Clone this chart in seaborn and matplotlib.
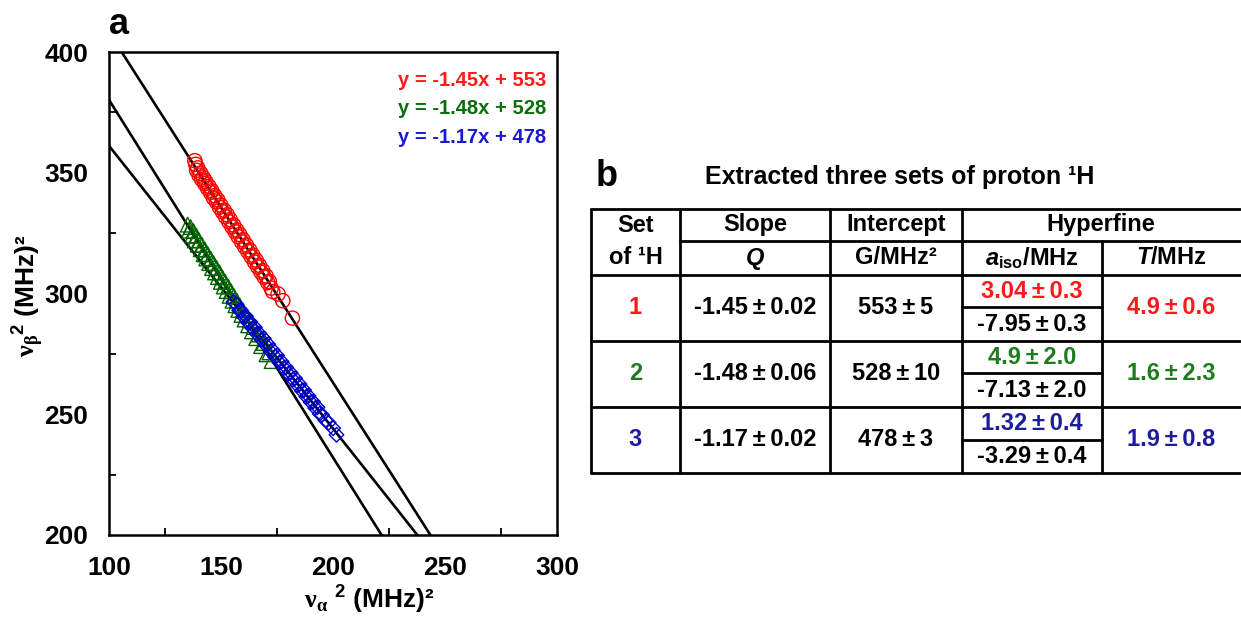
import numpy as np
import pandas as pd
import matplotlib
matplotlib.use("Agg")
import matplotlib.pyplot as plt
import seaborn as sns

# ---------------- data ----------------
red_x = [138.2, 138.6, 139.0, 139.5, 140.1, 140.8, 141.3, 142.0, 142.6, 143.1, 143.9, 144.5,
         145.2, 145.8, 146.5, 147.1, 147.9, 148.4, 149.2, 149.8, 150.5, 151.3, 151.9, 152.7,
         153.4, 154.0, 154.8, 155.5, 156.2, 156.9, 157.6, 158.3, 159.1, 159.7, 160.5, 161.2,
         161.9, 162.7, 163.4, 164.1, 164.9, 165.6, 166.3, 167.0, 167.8, 168.5, 169.2, 170.0,
         170.8, 171.5, 172.3, 173.0, 175.4, 177.5, 181.8]
red_y = [355.0, 353.5, 351.0, 352.0, 349.0, 349.8, 347.2, 348.0, 345.5, 346.3, 343.6, 344.4,
         341.8, 342.5, 339.6, 340.5, 337.9, 338.8, 335.7, 336.6, 333.9, 334.5, 331.8, 332.6,
         329.7, 330.6, 327.6, 328.4, 325.6, 326.3, 323.5, 324.4, 321.4, 322.3, 319.3, 320.1,
         317.4, 318.0, 315.2, 315.9, 313.0, 313.8, 311.0, 311.7, 308.8, 309.5, 306.8, 307.3,
         304.5, 305.0, 302.2, 300.8, 299.8, 297.0, 289.8]

green_x = [135.0, 135.6, 136.3, 137.0, 137.6, 138.2, 138.9, 139.5, 140.1, 140.8, 141.4, 142.1,
           142.7, 143.3, 144.0, 144.6, 145.3, 145.9, 146.6, 147.2, 147.9, 148.5, 149.2, 149.8,
           150.5, 151.1, 151.8, 152.4, 153.1, 153.7, 154.4, 155.0, 155.7, 156.3, 157.0, 157.6,
           158.3, 159.0, 159.7, 160.4, 161.2, 162.0, 162.8, 163.7, 164.6, 165.6, 166.7, 167.8,
           169.0, 170.2, 171.5, 172.5]
green_y = [328.5, 326.0, 327.5, 324.0, 325.8, 322.0, 323.9, 320.2, 322.0, 318.3, 320.1, 316.2,
           318.2, 314.5, 316.3, 312.6, 314.4, 310.5, 312.5, 308.7, 310.6, 306.8, 308.7, 304.8,
           306.6, 302.9, 304.8, 301.0, 302.9, 299.0, 300.9, 297.0, 298.9, 295.1, 297.0, 293.2,
           295.0, 291.1, 293.0, 289.2, 291.0, 286.8, 288.9, 284.3, 286.1, 281.5, 283.0, 278.2,
           279.5, 274.8, 275.6, 272.0]

blue_x = [155.5, 156.8, 158.0, 159.0, 160.1, 161.0, 162.0, 163.0, 164.0, 165.0, 166.0, 167.0,
          168.0, 169.0, 170.0, 171.0, 172.0, 173.0, 174.0, 175.0, 176.0, 177.0, 178.0, 179.0,
          180.0, 181.0, 182.0, 183.0, 184.0, 185.0, 186.0, 187.0, 188.0, 189.0, 190.0, 191.0,
          192.0, 193.0, 194.0, 195.0, 196.5, 198.0, 200.0, 201.5]
blue_y = [296.5, 295.5, 293.0, 292.8, 290.3, 290.6, 288.0, 288.2, 285.6, 286.0, 283.2, 283.5,
          280.8, 281.4, 278.5, 279.0, 276.0, 276.6, 273.8, 274.3, 271.4, 271.8, 269.2, 269.4,
          266.8, 267.2, 264.4, 264.9, 262.0, 262.5, 259.7, 260.0, 257.3, 257.6, 255.0, 255.2,
          252.6, 252.9, 250.2, 249.8, 247.5, 246.5, 244.2, 241.5]

fit_slopes = [-1.45, -1.48, -1.17]
fit_intercepts = [553, 528, 478]
fit_labels = ["y = -1.45x + 553", "y = -1.48x + 528", "y = -1.17x + 478"]
fit_colors = ["#FF1A1A", "#0A6E0A", "#1A1AD0"]

x_ticks = [100, 150, 200, 250, 300]
y_ticks = [200, 250, 300, 350, 400]

# table data
PM = "\u2009±\u2009"
table_title = "Extracted three sets of proton ¹H"
set_ids = ["1", "2", "3"]
slopes_tab = ["-1.45" + PM + "0.02", "-1.48" + PM + "0.06", "-1.17" + PM + "0.02"]
intercepts_tab = ["553" + PM + "5", "528" + PM + "10", "478" + PM + "3"]
aiso_pos = ["3.04" + PM + "0.3", "4.9" + PM + "2.0", "1.32" + PM + "0.4"]
aiso_neg = ["-7.95" + PM + "0.3", "-7.13" + PM + "2.0", "-3.29" + PM + "0.4"]
T_vals = ["4.9" + PM + "0.6", "1.6" + PM + "2.3", "1.9" + PM + "0.8"]
row_colors = ["#FF1A1A", "#1E7B1E", "#1C1C9E"]

# ---------------- style ----------------
sns.set_theme(style="white")
plt.rcParams['font.family'] = ['Liberation Sans', 'DejaVu Sans']
plt.rcParams['font.weight'] = 'bold'
plt.rcParams['text.color'] = 'black'
plt.rcParams['axes.labelcolor'] = 'black'
plt.rcParams['xtick.color'] = 'black'
plt.rcParams['ytick.color'] = 'black'
plt.rcParams['mathtext.fontset'] = 'custom'
plt.rcParams['mathtext.rm'] = 'Liberation Serif'
plt.rcParams['mathtext.it'] = 'Liberation Sans:italic:bold'
plt.rcParams['mathtext.bf'] = 'Liberation Sans:bold'

W, H = 1241, 619
fig = plt.figure(figsize=(W / 100, H / 100), dpi=100)
fig.patch.set_facecolor("white")

L, R, T, B = 109.3, 557.0, 52.0, 535.0
ax = fig.add_axes([L / W, (H - B) / H, (R - L) / W, (B - T) / H])

# fit lines
xx = np.array([100.0, 300.0])
for m, b in zip(fit_slopes, fit_intercepts):
    sns.lineplot(x=xx, y=m * xx + b, ax=ax, color="black", linewidth=1.9, zorder=2)

# scatter series
series = [
    (red_x, red_y, "o", "#FF0000", 105),
    (green_x, green_y, "^", "#006400", 110),
    (blue_x, blue_y, "D", "#0000CC", 55),
]
for xs, ys, mk, col, s in series:
    n_before = len(ax.collections)
    sns.scatterplot(x=xs, y=ys, ax=ax, marker=mk, s=s, color=col, linewidth=1.0, zorder=3)
    for c in ax.collections[n_before:]:
        c.set_facecolor("none")
        c.set_edgecolor(col)

ax.set_xlim(100, 300)
ax.set_ylim(200, 400)
ax.set_xticks(x_ticks)
ax.set_yticks(y_ticks)
ax.set_xticks([125, 175, 225, 275], minor=True)
ax.set_yticks([225, 275, 325, 375], minor=True)
ax.tick_params(axis="both", which="major", length=0, labelsize=19)
ax.tick_params(axis="x", which="major", pad=15)
ax.tick_params(axis="y", which="major", pad=15)
ax.tick_params(axis="both", which="minor", direction="in", length=5, width=1.3, color="black")
ax.tick_params(axis="x", which="minor", bottom=True)
ax.tick_params(axis="y", which="minor", left=True)
for lab in ax.get_xticklabels() + ax.get_yticklabels():
    lab.set_fontweight("bold")
for sp in ax.spines.values():
    sp.set_linewidth(1.8)
    sp.set_color("black")

ax.set_xlabel(r"$\mathrm{\nu_{\alpha}}$ $^{\mathbf{2}}$ (MHz)²", fontsize=19, fontweight="bold")
ax.set_ylabel(r"$\mathrm{\nu_{\beta}}^{\mathbf{2}}$ (MHz)²", fontsize=19, fontweight="bold")
ax.xaxis.set_label_coords((369 - L) / (R - L), -(584 - B) / (B - T))
ax.yaxis.set_label_coords(-(L - 46) / (R - L), (B - 296) / (B - T))

for i, (lab, col) in enumerate(zip(fit_labels, fit_colors)):
    ax.text(0.975, 0.94 - i * 0.058, lab, transform=ax.transAxes, ha="right", va="center",
            color=col, fontsize=14.5, fontweight="bold")

# ---------------- overlay for panel letters and table ----------------
ov = fig.add_axes([0, 0, 1, 1], facecolor="none")
ov.set_xlim(0, W)
ov.set_ylim(H, 0)
ov.axis("off")

ov.text(119, 24, "a", fontsize=26, fontweight="bold", ha="center", va="center")
ov.text(607, 176, "b", fontsize=26, fontweight="bold", ha="center", va="center")
ov.text(900, 177, table_title, fontsize=18, fontweight="bold", ha="center", va="center")

cols = [591, 680, 830, 962, 1102, 1240]
rows = [209, 241, 275, 341, 407, 473]
half = [307, 373, 440]
lw = 2.0
ov.plot([cols[0], cols[-1]], [rows[0], rows[0]], color="black", lw=lw)
ov.plot([cols[1], cols[-1]], [rows[1], rows[1]], color="black", lw=lw)
for r in rows[2:]:
    ov.plot([cols[0], cols[-1]], [r, r], color="black", lw=lw)
for h in half:
    ov.plot([cols[3], cols[4]], [h, h], color="black", lw=lw)
for c in cols[:4]:
    ov.plot([c, c], [rows[0], rows[-1]], color="black", lw=lw)
ov.plot([cols[4], cols[4]], [rows[1], rows[-1]], color="black", lw=lw)

fs = 17
cx = [(cols[i] + cols[i + 1]) / 2 for i in range(5)]
ov.text(cx[0], 225, "Set", fontsize=fs, fontweight="bold", ha="center", va="center")
ov.text(cx[0], 258, "of ¹H", fontsize=fs, fontweight="bold", ha="center", va="center")
ov.text(cx[1], 225, "Slope", fontsize=fs, fontweight="bold", ha="center", va="center")
ov.text(cx[1], 258, "Q", fontsize=fs, fontweight="bold", style="italic", ha="center", va="center")
ov.text(cx[2], 225, "Intercept", fontsize=fs, fontweight="bold", ha="center", va="center")
ov.text(cx[2], 258, "G/MHz²", fontsize=fs, fontweight="bold", ha="center", va="center")
ov.text((cols[3] + cols[5]) / 2, 225, "Hyperfine", fontsize=fs, fontweight="bold", ha="center", va="center")
ov.text(cx[3], 258, r"$\mathit{a}_{\mathbf{iso}}$/MHz", fontsize=fs, fontweight="bold", ha="center", va="center")
ov.text(cx[4], 258, r"$\mathit{T}$/MHz", fontsize=fs, fontweight="bold", ha="center", va="center")

row_mid = [(rows[2] + rows[3]) / 2, (rows[3] + rows[4]) / 2, (rows[4] + rows[5]) / 2]
for i in range(3):
    ym = row_mid[i]
    col = row_colors[i]
    ov.text(cx[0], ym, set_ids[i], fontsize=fs, fontweight="bold", color=col, ha="center", va="center")
    ov.text(cx[1], ym, slopes_tab[i], fontsize=fs, fontweight="bold", ha="center", va="center")
    ov.text(cx[2], ym, intercepts_tab[i], fontsize=fs, fontweight="bold", ha="center", va="center")
    ov.text(cx[3], ym - 16.5, aiso_pos[i], fontsize=fs, fontweight="bold", color=col, ha="center", va="center")
    ov.text(cx[3], ym + 16.5, aiso_neg[i], fontsize=fs, fontweight="bold", ha="center", va="center")
    ov.text(cx[4], ym, T_vals[i], fontsize=fs, fontweight="bold", color=col, ha="center", va="center")

fig.savefig("out.png", dpi=100, facecolor="white")
